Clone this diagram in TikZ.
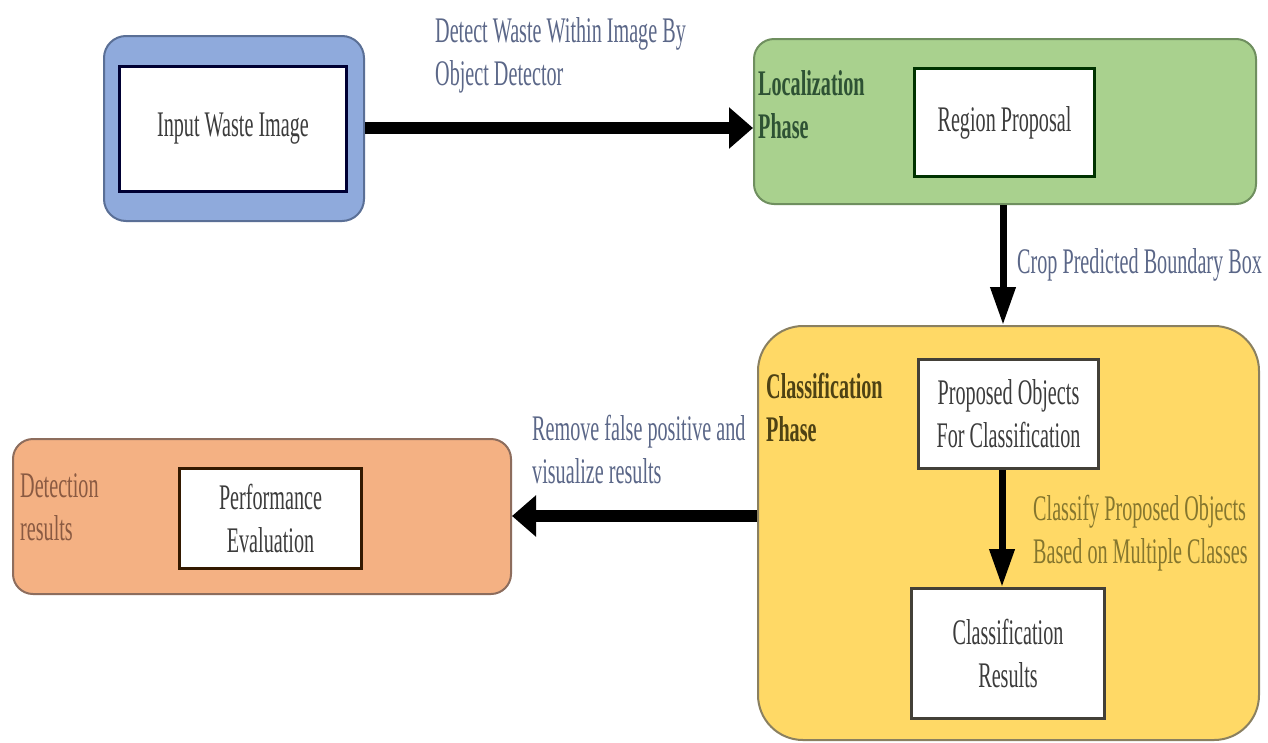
\documentclass[tikz,border=0pt]{standalone}
\usepackage{fontspec}
\setmainfont{Liberation Serif}[FakeStretch=0.56]
\usetikzlibrary{arrows.meta}
\definecolor{bluefill}{HTML}{8FAADC}
\definecolor{blueedge}{HTML}{5A6F96}
\definecolor{greenfill}{HTML}{A9D18E}
\definecolor{greenedge}{HTML}{6F8F5F}
\definecolor{yellowfill}{HTML}{FFD966}
\definecolor{yellowedge}{HTML}{8A8060}
\definecolor{orangefill}{HTML}{F4B183}
\definecolor{orangeedge}{HTML}{8D6D5D}
\definecolor{boxtext}{HTML}{3C3C3C}
\definecolor{slate}{HTML}{5B6788}
\definecolor{darkgreen}{HTML}{2E5234}
\definecolor{darkolive}{HTML}{4E4214}
\definecolor{olive}{HTML}{85762E}
\definecolor{brownlbl}{HTML}{8A5A42}
\newcommand{\twol}[2]{\begin{tabular}[t]{@{}l@{}}#1\\#2\end{tabular}}
\tikzset{
  txt/.style={font=\fontsize{36}{43}\selectfont},
  outer/.style={draw, line width=2pt, anchor=north west, inner sep=0pt},
  inbox/.style={draw, fill=white, line width=3pt, anchor=north west, inner sep=0pt, align=center, txt, text=boxtext},
  lbl/.style={anchor=base west, inner sep=0pt, txt},
  bigarrow/.style={line width=12pt, -{Triangle[width=40pt,length=24pt]}},
  downarrow/.style={line width=7pt, -{Triangle[width=24pt,length=38pt]}},
}
\begin{document}
\begin{tikzpicture}[x=1pt,y=-1pt]
\useasboundingbox (0,0) rectangle (1268,742);
\fill[white] (0,0) rectangle (1268,742);
% outer containers
\node[outer, fill=bluefill, draw=blueedge, rounded corners=22pt, minimum width=260pt, minimum height=185pt] (blue) at (103,35) {};
\node[outer, fill=greenfill, draw=greenedge, rounded corners=20pt, minimum width=502pt, minimum height=165pt] (green) at (753,38) {};
\node[outer, fill=yellowfill, draw=yellowedge, rounded corners=45pt, minimum width=501pt, minimum height=414pt] (yellow) at (757,325) {};
\node[outer, fill=orangefill, draw=orangeedge, rounded corners=20pt, minimum width=498pt, minimum height=155pt] (orange) at (12,438) {};
% inner boxes
\node[inbox, draw=black!80!blue, minimum width=227pt, minimum height=125pt] (input) at (118,65) {Input Waste Image};
\node[inbox, draw=black!80!green, minimum width=180pt, minimum height=108pt] (region) at (913,67) {Region Proposal};
\node[inbox, draw=black!85!yellow, minimum width=180pt, minimum height=109pt] (proposed) at (917,358) {Proposed Objects\\For Classification};
\node[inbox, draw=black!85!yellow, minimum width=193pt, minimum height=130pt] (classres) at (910,587) {Classification\\Results};
\node[inbox, draw=black!80!orange, minimum width=182pt, minimum height=100pt] (perf) at (178,467) {Performance\\Evaluation};
% phase labels
\node[lbl, text=darkgreen, font=\fontsize{36}{43}\selectfont\bfseries] (locl) at (758,95) {\twol{Localization}{Phase}};
\node[lbl, text=darkolive, font=\fontsize{36}{43}\selectfont\bfseries] (clsl) at (766,398) {\twol{Classification}{Phase}};
\node[lbl, text=brownlbl] (detl) at (20,497) {\twol{Detection}{results}};
% connectors
\draw[bigarrow] (blue.east |- 0,128) -- (green.west |- 0,128);
\draw[downarrow] (green.south -| 1003,0) -- (yellow.north -| 1003,0);
\draw[downarrow] (proposed.south -| 1002,0) -- (classres.north -| 1002,0);
\draw[bigarrow] (yellow.west |- 0,516) -- (orange.east |- 0,516);
% connector labels
\node[lbl, text=slate] (l1) at (435,42) {\twol{Detect Waste Within Image By}{Object Detector}};
\node[lbl, text=slate] (l2) at (1017,273) {Crop Predicted Boundary Box};
\node[lbl, text=olive] (l3) at (1033,520) {\twol{Classify Proposed Objects}{Based on Multiple Classes}};
\node[lbl, text=slate] (l4) at (532,440) {\twol{Remove false positive and}{visualize results}};
\end{tikzpicture}
\end{document}
